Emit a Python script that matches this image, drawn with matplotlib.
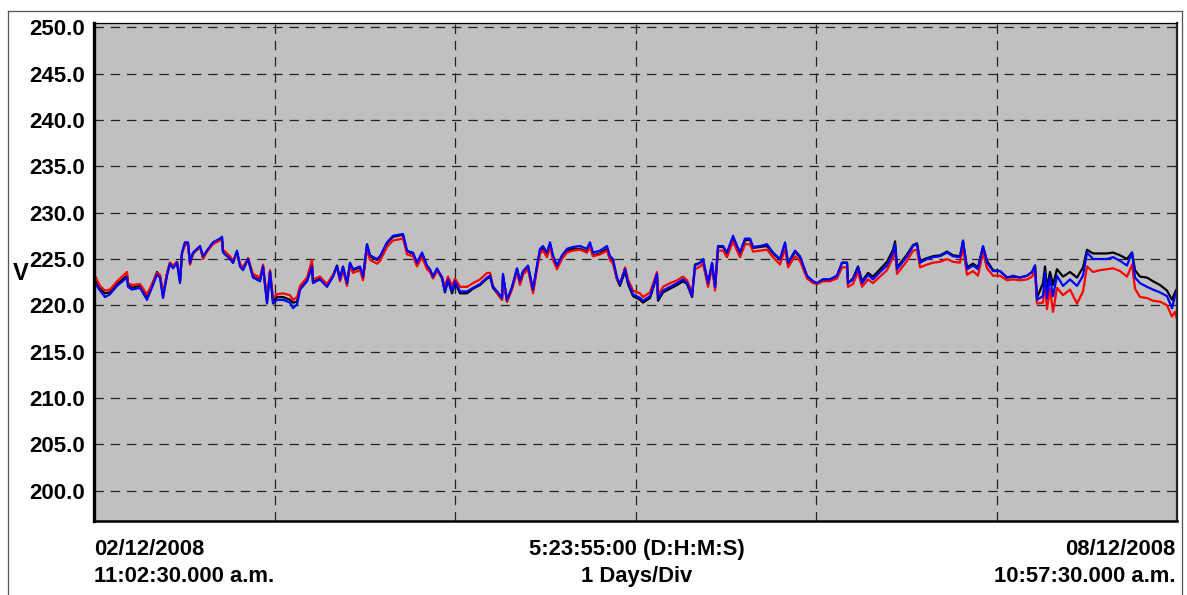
import matplotlib
matplotlib.use("Agg")
import matplotlib.pyplot as plt
from matplotlib.lines import Line2D

# time since start, in hours (02/12/2008 11:02:30 -> 08/12/2008 10:57:30)
hours = [0.0, 0.8, 1.46, 2.13, 3.06, 4.39, 4.52, 5.05, 6.11, 7.04, 7.84, 8.37, 8.77, 9.17, 9.70,
         10.10, 10.50, 11.03, 11.43, 11.69, 12.09, 12.49, 12.76, 13.16, 14.09, 14.49, 15.02, 15.81,
         16.74, 17.01, 17.14, 18.07, 18.47, 19.00, 19.40, 19.80, 20.47, 21.13, 22.06, 22.46, 22.99,
         23.39, 23.79, 24.32, 25.12, 26.05, 26.45, 26.98, 27.38, 28.31, 28.97, 29.10, 30.03, 30.96,
         31.76, 32.29, 32.69, 33.09, 33.62, 34.02, 34.42, 35.35, 35.75, 36.28, 36.68, 37.61, 38.01,
         38.94, 39.73, 41.06, 41.60, 42.39, 42.92, 43.59, 44.25, 44.65, 45.05, 45.58, 46.25, 46.64,
         47.04, 47.58, 47.97, 48.64, 49.57, 50.37, 51.30, 52.23, 52.63, 53.02, 53.69, 54.22, 54.35,
         54.88, 55.55, 56.21, 56.61, 57.01, 57.67, 58.34, 58.87, 59.27, 59.67, 60.20, 60.60, 60.99,
         61.53, 62.19, 62.86, 63.65, 64.58, 65.51, 65.91, 66.31, 67.24, 68.17, 68.57, 68.97, 69.50,
         69.90, 70.57, 70.96, 71.63, 72.56, 72.96, 73.89, 74.82, 74.95, 75.62, 76.55, 77.48, 78.28,
         78.81, 79.47, 79.87, 80.54, 80.93, 81.60, 82.13, 82.53, 82.93, 83.59, 84.12, 84.92, 85.45,
         85.85, 86.51, 87.18, 87.58, 88.51, 89.44, 90.23, 91.16, 91.83, 92.23, 93.16, 93.82, 94.75,
         95.55, 96.08, 96.88, 97.81, 98.74, 99.40, 100.07, 100.20, 100.86, 101.53, 102.06, 102.86,
         103.52, 104.45, 105.38, 106.18, 106.45, 106.71, 107.11, 108.04, 108.84, 109.37, 109.77,
         110.70, 111.49, 112.43, 113.36, 114.15, 115.08, 115.48, 116.01, 116.81, 117.47, 118.14,
         118.67, 119.47, 120.40, 121.33, 122.13, 123.06, 123.99, 124.65, 125.05, 125.31, 126.11,
         126.38, 126.64, 127.04, 127.44, 127.97, 128.77, 129.70, 130.63, 131.43, 131.96, 132.76,
         133.69, 134.62, 135.42, 136.35, 137.27, 137.94, 138.34, 139.00, 139.93, 140.73, 141.66,
         142.59, 143.25, 143.65, 143.92]

blue = [222.6, 221.6, 220.9, 221.2, 222.1, 223.0, 222.0, 221.7, 221.9, 220.6, 222.2, 223.3, 223.0, 220.8, 223.2,
        224.5, 224.0, 224.6, 222.4, 225.7, 226.8, 226.8, 224.6, 225.7, 226.4, 225.3, 225.9, 226.8,
        227.2, 227.4, 225.7, 225.0, 224.6, 225.9, 224.2, 223.8, 225.0, 223.0, 222.6, 224.2, 220.2,
        223.6, 220.2, 220.6, 220.6, 220.3, 219.7, 220.1, 221.7, 222.6, 224.2, 222.4, 222.8, 222.0,
        223.1, 224.2, 222.8, 224.2, 222.4, 224.6, 223.9, 224.2, 223.1, 226.6, 225.4, 225.0, 225.3,
        226.8, 227.5, 227.7, 225.9, 225.7, 224.6, 225.7, 224.3, 223.9, 223.1, 224.0, 223.0, 221.5,
        222.8, 221.5, 222.6, 221.5, 221.5, 221.9, 222.3, 223.0, 223.2, 222.0, 221.4, 220.8, 223.4,
        220.6, 222.0, 224.0, 222.6, 223.7, 224.3, 221.7, 224.3, 226.1, 226.4, 225.7, 226.8, 225.4,
        224.3, 225.4, 226.1, 226.3, 226.4, 226.1, 226.8, 225.7, 225.9, 226.4, 225.3, 225.0, 223.0,
        222.3, 223.9, 222.5, 221.2, 220.8, 220.5, 221.0, 223.4, 220.7, 221.6, 222.0, 222.4, 222.8,
        222.4, 221.0, 224.3, 224.6, 225.0, 222.4, 224.6, 222.0, 226.4, 226.4, 225.7, 227.5, 226.4,
        225.7, 227.2, 227.2, 226.3, 226.4, 226.6, 225.7, 225.0, 226.8, 224.6, 225.9, 225.3, 223.2,
        222.6, 222.4, 222.8, 222.8, 223.2, 224.6, 224.6, 222.4, 222.8, 224.1, 222.4, 223.3,
        222.8, 223.6, 224.3, 225.7, 226.6, 223.9, 224.3, 225.3, 226.4, 226.6, 224.6,
        225.0, 225.2, 225.3, 225.7, 225.3, 225.2, 227.0, 223.9, 224.3, 223.9, 226.4,
        224.6, 223.7, 223.7, 223.0, 223.2, 223.0, 223.2, 223.6, 224.3, 220.6, 221.0,
        223.6, 220.8, 223.0, 221.0, 223.2, 222.1, 222.8, 222.1, 223.2, 225.7, 225.0,
        225.0, 225.0, 225.2, 224.8, 224.3, 225.7, 223.0, 222.4, 222.0, 221.7, 221.4,
        221.0, 219.7, 221.0, 221.6]

red = [223.4, 222.1, 221.6, 221.7, 222.6, 223.6, 222.4, 222.2, 222.3, 221.2, 222.5, 223.5, 223.3, 221.3, 223.5,
       224.6, 224.3, 224.7, 222.7, 225.6, 226.5, 226.6, 224.4, 225.6, 226.3, 225.0, 225.8, 226.6,
       227.0, 227.1, 226.0, 225.3, 224.8, 225.6, 224.5, 224.1, 225.1, 223.4, 223.0, 224.4, 220.7,
       223.8, 220.8, 221.2, 221.3, 221.1, 220.6, 220.9, 222.1, 223.0, 224.9, 222.8, 223.1, 222.3,
       223.3, 224.1, 222.6, 223.8, 222.1, 224.3, 223.5, 223.8, 222.7, 226.1, 224.9, 224.5, 224.8,
       226.3, 227.0, 227.2, 225.5, 225.3, 224.2, 225.2, 223.9, 223.6, 222.9, 223.7, 223.1, 222.0,
       223.1, 222.1, 222.9, 222.0, 222.0, 222.4, 222.8, 223.5, 223.5, 222.1, 221.2, 220.6, 223.0,
       220.4, 221.7, 223.6, 222.2, 223.3, 223.9, 221.3, 223.9, 225.6, 225.9, 225.2, 226.3, 224.9,
       223.9, 225.0, 225.7, 225.9, 226.0, 225.7, 226.3, 225.3, 225.5, 225.9, 224.9, 224.5, 222.8,
       222.4, 224.1, 222.8, 221.6, 221.3, 220.9, 221.4, 223.6, 221.1, 222.0, 222.4, 222.7, 223.1,
       222.7, 221.4, 223.9, 224.2, 224.5, 222.0, 224.1, 221.6, 225.9, 225.9, 225.2, 226.9, 225.9,
       225.2, 226.6, 226.6, 225.8, 225.9, 226.0, 225.2, 224.4, 226.1, 224.1, 225.3, 224.8, 222.9,
       222.4, 222.3, 222.6, 222.6, 222.9, 224.1, 224.1, 222.0, 222.3, 223.6, 222.0, 222.8,
       222.4, 223.1, 223.8, 225.2, 225.9, 223.4, 223.8, 224.8, 225.9, 226.0, 224.1,
       224.4, 224.6, 224.7, 225.0, 224.7, 224.6, 226.2, 223.3, 223.7, 223.2, 225.7,
       224.0, 223.2, 223.2, 222.7, 222.8, 222.7, 222.8, 223.1, 223.8, 220.2, 220.3,
       222.4, 219.6, 221.8, 219.3, 221.9, 221.1, 221.7, 220.2, 221.5, 224.2, 223.6,
       223.8, 223.9, 224.0, 223.7, 223.1, 224.4, 221.8, 220.9, 220.8, 220.5, 220.4,
       220.0, 218.8, 219.3, 218.5]

black = [222.9, 221.8, 221.3, 221.4, 222.3, 223.2, 222.2, 221.9, 222.1, 220.9, 222.5, 223.6, 223.2, 221.0, 223.4,
         224.6, 224.1, 224.7, 222.6, 225.6, 226.7, 226.7, 224.5, 225.6, 226.3, 225.2, 225.9, 226.7,
         227.1, 227.3, 225.8, 225.1, 224.6, 225.8, 224.3, 223.9, 225.0, 223.1, 222.7, 224.2, 220.4,
         223.6, 220.4, 220.9, 220.9, 220.6, 220.3, 220.4, 221.8, 222.7, 224.3, 222.5, 222.9, 222.1,
         223.2, 224.3, 222.9, 224.1, 222.3, 224.5, 223.8, 224.1, 223.0, 226.5, 225.3, 224.9, 225.2,
         226.7, 227.4, 227.6, 225.8, 225.6, 224.5, 225.6, 224.2, 223.8, 223.0, 223.9, 222.9, 221.4,
         222.7, 221.3, 222.4, 221.3, 221.3, 221.8, 222.2, 222.9, 223.1, 221.9, 221.2, 220.6, 223.2,
         220.4, 221.9, 223.9, 222.5, 223.6, 224.2, 221.6, 224.2, 225.9, 226.2, 225.5, 226.6, 225.2,
         224.1, 225.2, 225.9, 226.1, 226.1, 225.8, 226.5, 225.4, 225.6, 226.1, 225.0, 224.7, 222.8,
         222.1, 223.7, 222.3, 221.0, 220.6, 220.3, 220.8, 223.2, 220.5, 221.4, 221.8, 222.2, 222.6,
         222.3, 220.9, 224.4, 224.6, 224.9, 222.3, 224.5, 221.9, 226.3, 226.3, 225.6, 227.3, 226.3,
         225.6, 227.0, 227.1, 226.2, 226.3, 226.4, 225.6, 224.9, 226.6, 224.5, 225.8, 225.2, 223.1,
         222.6, 222.4, 222.8, 222.8, 223.2, 224.6, 224.6, 222.4, 222.9, 224.2, 222.6, 223.5,
         223.1, 223.9, 224.7, 226.0, 226.9, 224.1, 224.5, 225.5, 226.5, 226.7, 224.8,
         225.1, 225.3, 225.4, 225.8, 225.4, 225.3, 226.9, 224.1, 224.5, 224.1, 226.3,
         224.8, 223.8, 223.7, 223.0, 223.1, 223.0, 223.2, 223.6, 224.3, 220.8, 222.4,
         224.2, 221.8, 223.6, 222.2, 223.9, 223.1, 223.6, 223.0, 224.1, 226.0, 225.6,
         225.6, 225.6, 225.7, 225.4, 225.0, 225.7, 223.8, 223.1, 223.0, 222.6, 222.2,
         221.6, 220.6, 221.4, 221.8]

y_ticks = [200.0, 205.0, 210.0, 215.0, 220.0, 225.0, 230.0, 235.0, 240.0, 245.0, 250.0]
x_div_hours = [24, 48, 72, 96, 120]
span_hours = 143.917

left_label = ["02/12/2008", "11:02:30.000 a.m."]
center_label = ["5:23:55:00 (D:H:M:S)", "1 Days/Div"]
right_label = ["08/12/2008", "10:57:30.000 a.m."]
y_unit = "V"

plt.rcParams['font.family'] = ['Liberation Sans', 'DejaVu Sans']

W, H = 1187, 595
fig = plt.figure(figsize=(W / 100, H / 100), dpi=100)
ax = fig.add_axes([94 / W, 1 - 521 / H, (1177 - 94) / W, (521 - 23) / H])
ax.set_facecolor('#c0c0c0')

ax.plot(hours, black, color='black', lw=1.6, zorder=3)
ax.plot(hours, red, color='#ff0000', lw=1.6, zorder=4)
ax.plot(hours, blue, color='#0000ff', lw=1.6, zorder=5)

ax.set_xlim(0, span_hours)
ax.set_ylim(196.75, 250.45)
ax.set_yticks(y_ticks)
ax.set_yticklabels([f"{v:.1f}" for v in y_ticks], fontsize=16, fontweight='bold')
ax.tick_params(axis='y', length=0, pad=6.5)
ax.set_xticks(x_div_hours)
ax.tick_params(axis='x', length=0, labelbottom=False)

for v in y_ticks:
    ax.axhline(v, color='#222222', lw=0.9, ls=(0, (7.5, 5.5)), zorder=1)
for h in x_div_hours:
    ax.axvline(h, color='#222222', lw=0.9, ls=(0, (7.5, 5.5)), zorder=1)

ax.spines['left'].set_linewidth(2.4)
ax.spines['bottom'].set_linewidth(1.8)
ax.spines['top'].set_linewidth(0.9)
ax.spines['right'].set_linewidth(1.6)
ax.spines['right'].set_color('#222222')
for s in ax.spines.values():
    s.set_zorder(6)

fig.text(21 / W, 1 - 280 / H, y_unit, fontsize=17, fontweight='bold', ha='center', va='baseline')

fs = 15.8
fig.text(94 / W, 1 - 555 / H, left_label[0], fontsize=fs, fontweight='bold', ha='left', va='baseline')
fig.text(94 / W, 1 - 582 / H, left_label[1], fontsize=fs, fontweight='bold', ha='left', va='baseline')
fig.text(637 / W, 1 - 555 / H, center_label[0], fontsize=fs, fontweight='bold', ha='center', va='baseline')
fig.text(637 / W, 1 - 582 / H, center_label[1], fontsize=fs, fontweight='bold', ha='center', va='baseline')
fig.text(1175 / W, 1 - 555 / H, right_label[0], fontsize=fs, fontweight='bold', ha='right', va='baseline')
fig.text(1175 / W, 1 - 582 / H, right_label[1], fontsize=fs, fontweight='bold', ha='right', va='baseline')

# outer frame
fx0, fx1, fy0 = 7.5 / W, 1182 / W, 1 - 11 / H
frame_color = '#555555'
fig.add_artist(Line2D([fx0, fx1], [fy0, fy0], color=frame_color, lw=0.9, transform=fig.transFigure))
fig.add_artist(Line2D([fx0, fx0], [0, fy0], color=frame_color, lw=0.9, transform=fig.transFigure))
fig.add_artist(Line2D([fx1, fx1], [0, fy0], color=frame_color, lw=0.9, transform=fig.transFigure))

fig.savefig('out.png', dpi=100, facecolor='white')
